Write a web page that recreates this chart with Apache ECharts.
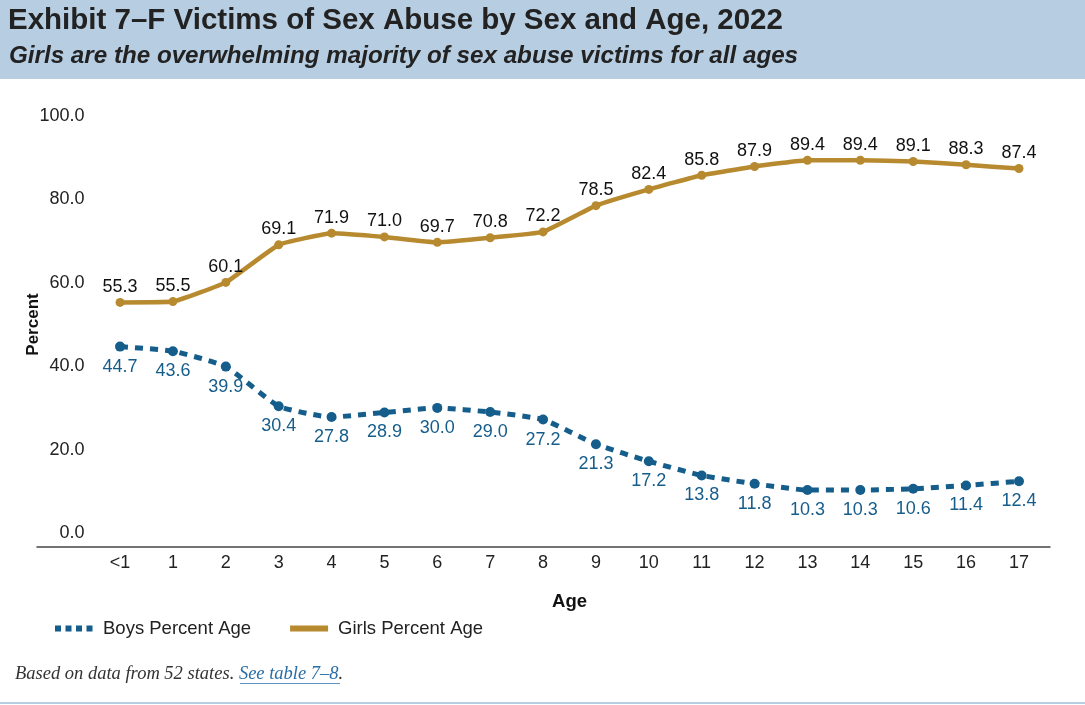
<!DOCTYPE html>
<html>
<head>
<meta charset="utf-8">
<script src="https://cdn.jsdelivr.net/npm/echarts@6/dist/echarts.min.js"></script>
<style>
  html, body { margin: 0; padding: 0; background: #ffffff; }
  #chart { width: 1085px; height: 705px; }
</style>
</head>
<body>
<div id="chart"></div>
<script>
// Ages on the horizontal axis
const ages = ['<1', '1', '2', '3', '4', '5', '6', '7', '8', '9', '10', '11', '12', '13', '14', '15', '16', '17'];
// Share of sex abuse victims by sex (percent)
const boysPercent = [44.7, 43.6, 39.9, 30.4, 27.8, 28.9, 30.0, 29.0, 27.2, 21.3, 17.2, 13.8, 11.8, 10.3, 10.3, 10.6, 11.4, 12.4];
const girlsPercent = [55.3, 55.5, 60.1, 69.1, 71.9, 71.0, 69.7, 70.8, 72.2, 78.5, 82.4, 85.8, 87.9, 89.4, 89.4, 89.1, 88.3, 87.4];

const BOYS = '#155d8b';
const GIRLS = '#b88a2f';
const FONT = '"Liberation Sans", Arial, Helvetica, sans-serif';
const SERIF = '"Liberation Serif", "Times New Roman", serif';

const chart = echarts.init(document.getElementById('chart'), null, { renderer: 'canvas' });

chart.setOption({
  animation: false,
  backgroundColor: '#ffffff',
  textStyle: { fontFamily: FONT },
  graphic: [
    // header band
    { type: 'rect', left: 0, top: 0, shape: { width: 1085, height: 79 }, style: { fill: '#b7cde2' }, z: -1 },
    { type: 'text', left: 8, top: 6, style: { text: 'Exhibit 7\u2013F Victims of Sex Abuse by Sex and Age, 2022', font: 'bold 29.5px ' + FONT, fill: '#222222' } },
    { type: 'text', left: 9, top: 44, style: { text: 'Girls are the overwhelming majority of sex abuse victims for all ages', font: 'italic bold 24.2px ' + FONT, fill: '#222222' } },
    // source note
    {
      type: 'text', left: 15, top: 665,
      style: {
        text: '{a|Based on data from 52 states. }{b|See table 7\u20138}{a|.}',
        rich: {
          a: { fontFamily: SERIF, fontStyle: 'italic', fontSize: 18.5, fill: '#333333' },
          b: { fontFamily: SERIF, fontStyle: 'italic', fontSize: 18.5, fill: '#2a6ea6' }
        }
      }
    },
    { type: 'rect', left: 240, top: 683, shape: { width: 100, height: 1 }, style: { fill: '#5b93c2' } },
    // bottom rule
    { type: 'rect', left: 0, top: 702, shape: { width: 1085, height: 2 }, style: { fill: '#b7cde2' } }
  ],
  legend: {
    left: 47, top: 614,
    itemWidth: 38, itemHeight: 10, itemGap: 36,
    textStyle: { fontSize: 18.5, color: '#222222', fontFamily: FONT, padding: [0, 0, 0, 5] },
    itemStyle: { opacity: 0 },
    data: [
      { name: 'Boys Percent Age', lineStyle: { width: 6, type: [6, 4.5] } },
      { name: 'Girls Percent Age', lineStyle: { width: 6 } }
    ]
  },
  grid: [
    { left: 93.6, right: 39.6, top: 116, bottom: 172 },
    // full-width baseline beneath the plot
    { left: 37, right: 35, top: 116, bottom: 172 }
  ],
  xAxis: [
    {
      type: 'category', gridIndex: 0, data: ages, boundaryGap: true,
      offset: 14,
      name: 'Age', nameLocation: 'middle', nameGap: 45,
      nameTextStyle: { fontWeight: 'bold', fontSize: 18.5, color: '#111111', fontFamily: FONT },
      axisLine: { show: false }, axisTick: { show: false },
      axisLabel: { fontSize: 18, color: '#222222', margin: 7, fontFamily: FONT }
    },
    {
      type: 'value', gridIndex: 1, offset: 14, min: 0, max: 1,
      axisLine: { show: true, onZero: false, lineStyle: { color: '#444444', width: 1.5 } },
      axisTick: { show: false }, axisLabel: { show: false }, splitLine: { show: false }
    }
  ],
  yAxis: [
    {
      type: 'value', gridIndex: 0, min: 0, max: 100, interval: 20,
      name: 'Percent', nameLocation: 'middle', nameGap: 52, nameRotate: 90,
      nameMoveOverlap: false,
      nameTextStyle: { fontWeight: 'bold', fontSize: 17, color: '#111111', fontFamily: FONT },
      axisLine: { show: false }, axisTick: { show: false }, splitLine: { show: false },
      axisLabel: { fontSize: 18, color: '#222222', margin: 9, formatter: v => v.toFixed(1), fontFamily: FONT }
    },
    { type: 'value', gridIndex: 1, show: false, min: 0, max: 1 }
  ],
  series: [
    {
      name: 'Boys Percent Age', type: 'line', xAxisIndex: 0, yAxisIndex: 0,
      data: boysPercent, smooth: 0.15,
      symbol: 'circle', symbolSize: 10,
      itemStyle: { color: BOYS },
      lineStyle: { color: BOYS, width: 5, type: [8, 7] },
      label: { show: true, position: 'bottom', distance: 6, fontSize: 18, color: BOYS, formatter: p => p.value.toFixed(1), fontFamily: FONT }
    },
    {
      name: 'Girls Percent Age', type: 'line', xAxisIndex: 0, yAxisIndex: 0,
      data: girlsPercent, smooth: 0.1,
      symbol: 'circle', symbolSize: 9,
      itemStyle: { color: GIRLS },
      lineStyle: { color: GIRLS, width: 4.5 },
      label: { show: true, position: 'top', distance: 2, fontSize: 18, color: '#111111', formatter: p => p.value.toFixed(1), fontFamily: FONT }
    }
  ]
});
</script>
</body>
</html>
